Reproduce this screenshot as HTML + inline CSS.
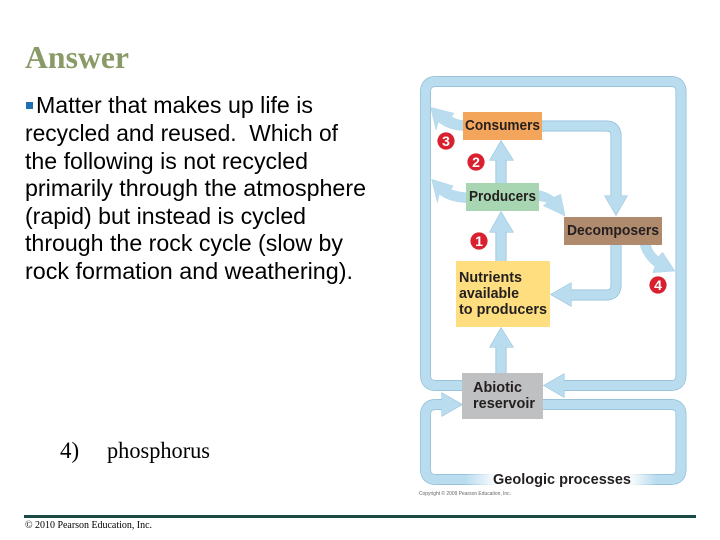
<!DOCTYPE html>
<html lang="en">
<head>
<meta charset="utf-8">
<title>Answer</title>
<style>
html,body{margin:0;padding:0;background:#fff;}
svg{display:block;}
.d{font-family:"Liberation Sans",Arial,sans-serif;font-weight:bold;fill:#231f20;font-size:14.5px;}
.b{font-family:"Liberation Sans",Arial,sans-serif;font-size:23px;fill:#000;}
.t{font-family:"Liberation Serif","Times New Roman",serif;fill:#000;}
.n{font-family:"Liberation Sans",Arial,sans-serif;font-weight:bold;fill:#fff;font-size:14px;text-anchor:middle;}
</style>
</head>
<body>
<svg width="720" height="540" viewBox="0 0 720 540" xmlns="http://www.w3.org/2000/svg">
<defs>
<linearGradient id="fade" x1="0" x2="1" y1="0" y2="0">
<stop offset="0" stop-color="#fff" stop-opacity="0"/>
<stop offset="0.17" stop-color="#fff"/>
<stop offset="0.85" stop-color="#fff"/>
<stop offset="1" stop-color="#fff" stop-opacity="0"/>
</linearGradient>
<g id="bands" fill="none">
<path d="M462 385.5 H436 Q425.5 385.5 425.5 375 V92 Q425.5 81.5 436 81.5 H671 Q681 81.5 681 92 V375 Q681 385.5 671 385.5 H564"/>
<path d="M543 404.5 H671 Q681 404.5 681 415 V469 Q681 479.5 671 479.5 H436 Q425.5 479.5 425.5 469 V415 Q425.5 404.5 436 404.5 H443"/>
<path d="M542 126 H606 Q616 126 616 136 V197"/>
<path d="M616 245 V285 Q616 295 606 295 H570"/>
<path d="M501 183 V159"/>
<path d="M501 261 V231"/>
<path d="M501 373 V346"/>
</g>
<g id="heads">
<polygon points="564,374 544,385.5 564,397"/>
<polygon points="442,393 462,404.5 442,416"/>
<polygon points="605,196 627,196 616,215"/>
<polygon points="571,283 551,294.5 571,306"/>
<polygon points="501,141 490,160 513,160"/>
<polygon points="501,212 490,232 513,232"/>
<polygon points="501,328 490,347 513,347"/>
<g transform="translate(410,70) scale(.33333)">
<path d="M62 112 L132 130 L124 140 Q140 150 160 152 L160 182 Q110 178 85 155 L78 180 Z"/>
<path d="M65 328 L130 348 L122 358 Q140 366 168 368 L168 398 Q115 395 88 372 L82 398 Z"/>
<path d="M387 362 Q415 368 432 382 L452 373 L465 438 L400 407 L412 398 Q400 393 387 392 Z"/>
<path d="M690 525 L722 525 Q726 545 745 560 L758 547 L795 603 L728 608 L735 590 Q702 565 690 525 Z"/>
</g>
</g>
</defs>

<text x="25" y="68" font-family="Liberation Serif,Times New Roman,serif" font-weight="bold" font-size="32" fill="#8a9a66" textLength="104" lengthAdjust="spacingAndGlyphs">Answer</text>

<rect x="26" y="102" width="7" height="7" fill="#1f6fb5"/>
<text class="b" x="36" y="113" textLength="277" lengthAdjust="spacingAndGlyphs">Matter that makes up life is</text>
<text class="b" x="25" y="141" textLength="313" lengthAdjust="spacingAndGlyphs" xml:space="preserve">recycled and reused.  Which of</text>
<text class="b" x="25" y="169" textLength="283" lengthAdjust="spacingAndGlyphs">the following is not recycled</text>
<text class="b" x="25" y="196" textLength="341" lengthAdjust="spacingAndGlyphs">primarily through the atmosphere</text>
<text class="b" x="25" y="224" textLength="281" lengthAdjust="spacingAndGlyphs">(rapid) but instead is cycled</text>
<text class="b" x="25" y="251" textLength="318" lengthAdjust="spacingAndGlyphs">through the rock cycle (slow by</text>
<text class="b" x="25" y="279" textLength="328" lengthAdjust="spacingAndGlyphs">rock formation and weathering).</text>

<text class="t" x="60" y="458" font-size="23">4)</text>
<text class="t" x="107" y="458" font-size="23" textLength="103" lengthAdjust="spacingAndGlyphs">phosphorus</text>

<rect x="24" y="515" width="672" height="3" fill="#1a4a44"/>
<text class="t" x="25" y="528" font-size="10.5" textLength="127" lengthAdjust="spacingAndGlyphs">© 2010 Pearson Education, Inc.</text>

<!-- arrow outlines then fills -->
<use href="#bands" stroke="#8fbdd8" stroke-width="11"/>
<use href="#heads" fill="#8fbdd8" stroke="#8fbdd8" stroke-width="1"/>
<use href="#bands" stroke="#b9dcef" stroke-width="9.6"/>
<use href="#heads" fill="#b9dcef"/>

<!-- boxes -->
<rect x="463" y="112" width="79" height="28" fill="#f4a55c"/>
<rect x="466" y="183" width="73" height="28" fill="#a9d6b2"/>
<rect x="564" y="217" width="98" height="28" fill="#b08a6c"/>
<rect x="456" y="261" width="94" height="66" fill="#fede7f"/>
<rect x="462" y="373" width="81" height="46" fill="#bfc0c2"/>

<text class="d" x="465" y="130" textLength="75" lengthAdjust="spacingAndGlyphs">Consumers</text>
<text class="d" x="469" y="201" textLength="67" lengthAdjust="spacingAndGlyphs">Producers</text>
<text class="d" x="567" y="235" textLength="92" lengthAdjust="spacingAndGlyphs">Decomposers</text>
<text class="d" x="459" y="282" textLength="63" lengthAdjust="spacingAndGlyphs">Nutrients</text>
<text class="d" x="459" y="298" textLength="60" lengthAdjust="spacingAndGlyphs">available</text>
<text class="d" x="459" y="314" textLength="88" lengthAdjust="spacingAndGlyphs">to producers</text>
<text class="d" x="473" y="392" textLength="49" lengthAdjust="spacingAndGlyphs">Abiotic</text>
<text class="d" x="473" y="408" textLength="62" lengthAdjust="spacingAndGlyphs">reservoir</text>

<!-- geologic label -->
<rect x="465" y="473" width="192" height="14" fill="url(#fade)"/>
<text class="d" x="493" y="484" textLength="138" lengthAdjust="spacingAndGlyphs">Geologic processes</text>

<!-- number badges -->
<circle cx="446" cy="141" r="8.6" fill="#d9202f"/>
<circle cx="476" cy="162" r="8.6" fill="#d9202f"/>
<circle cx="479" cy="241" r="8.6" fill="#d9202f"/>
<circle cx="658" cy="285" r="8.6" fill="#d9202f"/>
<text class="n" x="446" y="146">3</text>
<text class="n" x="476" y="167">2</text>
<text class="n" x="479" y="246">1</text>
<text class="n" x="658" y="290">4</text>

<text x="419" y="495" font-family="Liberation Sans,Arial,sans-serif" font-size="5" fill="#666" textLength="92" lengthAdjust="spacingAndGlyphs">Copyright © 2009 Pearson Education, Inc.</text>
</svg>
</body>
</html>
